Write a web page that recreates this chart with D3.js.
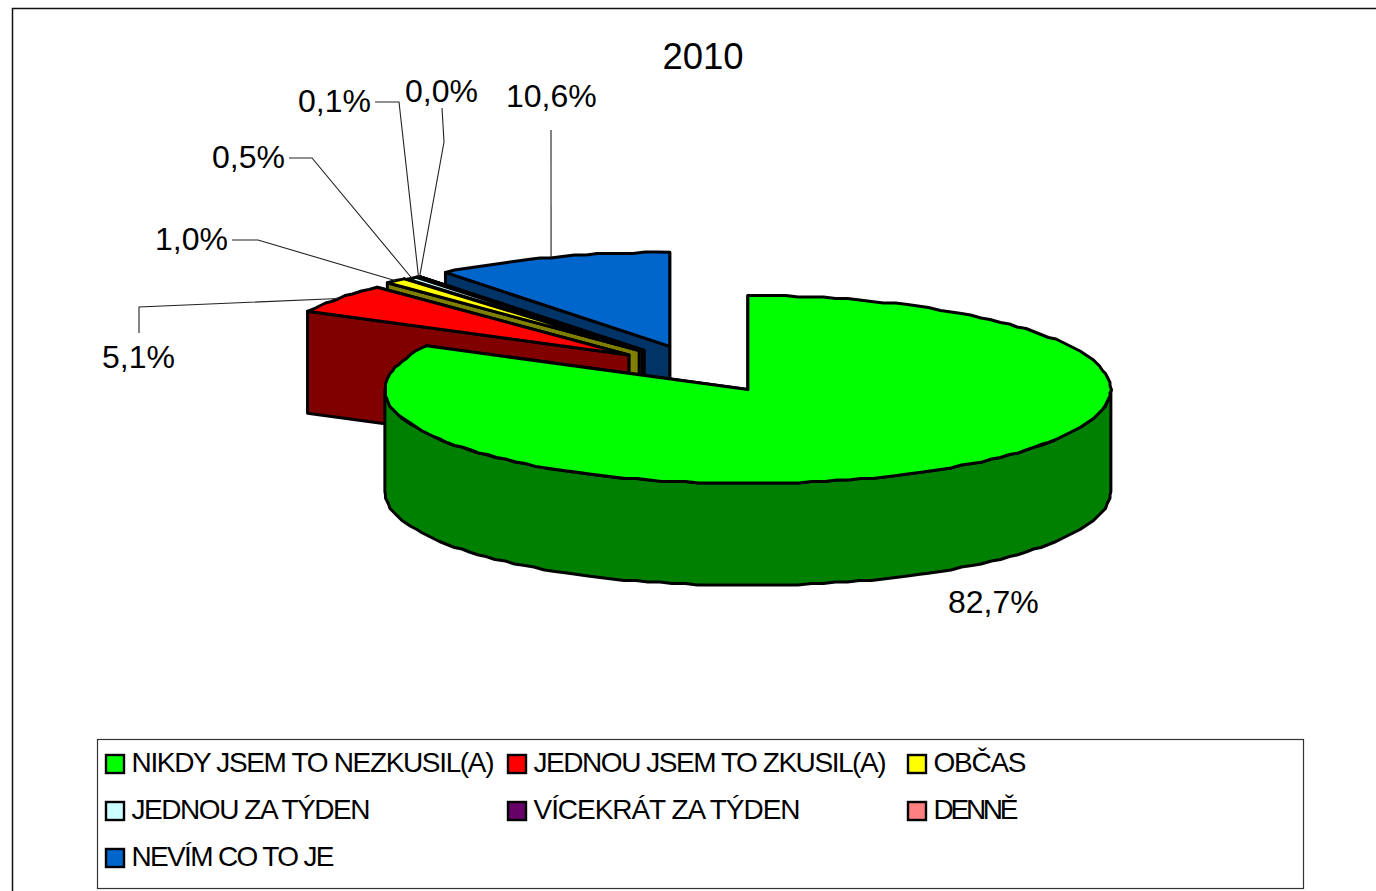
<!DOCTYPE html>
<html>
<head>
<meta charset="utf-8">
<script src="https://cdn.jsdelivr.net/npm/d3@7"></script>
<style>
  html, body { margin: 0; background: #fff; overflow: hidden; }
  text { font-family: "Liberation Sans", Arial, sans-serif; fill: #000; }
</style>
</head>
<body>
<div id="chart"></div>
<script>
const title = '2010';
const categories = ['NIKDY JSEM TO NEZKUSIL(A)', 'JEDNOU JSEM TO ZKUSIL(A)', 'OBČAS', 'JEDNOU ZA TÝDEN', 'VÍCEKRÁT ZA TÝDEN', 'DENNĚ', 'NEVÍM CO TO JE'];
const values = [82.7, 5.1, 1.0, 0.5, 0.1, 0.0, 10.6];
const colors = ['#00ff00', '#ff0000', '#ffff00', '#ccffff', '#660066', '#ff8080', '#0066cc'];

// label placement: text x, text baseline y, leader elbow points
const labelPos = [
    { x: 948, y: 613, elbow: null },
    { x: 102, y: 368, elbow: [[139, 333], [139, 307]] },
    { x: 155, y: 250, elbow: [[232, 240], [258, 240]] },
    { x: 212, y: 168, elbow: [[289, 158], [312, 158]] },
    { x: 298, y: 112, elbow: [[375, 102], [399, 102]] },
    { x: 405, y: 102, elbow: [[442, 108], [444, 142]] },
    { x: 506, y: 107, elbow: [[551, 130]] }
];
const legendCols = [106, 508, 908];
const legendRows = [755, 802, 849];
const legendWidths = [363, 353, 93, 239, 267, 85, 203];

const width = 1376, height = 891;
const cx = 700, cy = 369, rx = 363, ry = 94, depth = 102;
// how far each slice is pulled out of the pie, x and y differ a little in the original
const explodeX = [0.255, 0.245, 0.25, 0.25, 0.25, 0.25, 0.255];
const explodeY = [0.255, 0.248, 0.265, 0.25, 0.25, 0.25, 0.255];

const x = d3.scaleLinear().domain([-1, 1]).range([cx - rx, cx + rx]);
const y = d3.scaleLinear().domain([-1, 1]).range([cy + ry, cy - ry]);

const svg = d3.select('#chart').append('svg')
    .attr('width', width)
    .attr('height', height)
    .style('display', 'block');

// outer frame, runs off the right and bottom of the picture
svg.append('path')
    .attr('d', `M12.5,${height}V8.5H${width}`)
    .attr('fill', 'none')
    .attr('stroke', '#111')
    .attr('stroke-width', 1.5);

svg.append('text')
    .attr('x', 703)
    .attr('y', 69)
    .attr('text-anchor', 'middle')
    .attr('font-size', 36.5)
    .text(title);

const slices = d3.pie().sort(null).value(d => d)(values);
const mid = d => (d.startAngle + d.endAngle) / 2;

// the original is an upscaled raster, rim vertices sit on a coarse grid
const snap = v => Math.round(v / 1.5) * 1.5;

function project(d, angle, r = 1, dz = 0) {
    const m = mid(d);
    return [
        x(r * Math.sin(angle) + explodeX[d.index] * Math.sin(m)),
        y(r * Math.cos(angle) + explodeY[d.index] * Math.cos(m)) + dz
    ];
}

function rim(d, a0, a1, dz) {
    const n = Math.max(1, Math.ceil((a1 - a0) / (Math.PI / 90)));
    return d3.range(n + 1).map(i => {
        const p = project(d, a0 + (a1 - a0) * i / n, 1, dz);
        return (i === 0 || i === n) ? p : [snap(p[0]), snap(p[1])];
    });
}

const line = d3.line();
const sideColor = c => { const q = d3.rgb(c); return d3.rgb(q.r / 2, q.g / 2, q.b / 2).formatHex(); };

const pieG = svg.append('g')
    .attr('stroke', '#000')
    .attr('stroke-width', 3)
    .attr('stroke-linejoin', 'round');

// back to front: blue first, green last
const order = [6, 5, 4, 3, 2, 1, 0];
order.forEach(i => {
    const d = slices[i];
    const g = pieG.append('g');
    const side = sideColor(colors[i]);
    const c = project(d, 0, 0);
    [d.endAngle, d.startAngle].forEach(a => {
        const p = project(d, a);
        g.append('path')
            .attr('fill', side)
            .attr('d', line([c, p, [p[0], p[1] + depth], [c[0], c[1] + depth]]) + 'Z');
    });
    const a0 = Math.max(d.startAngle, Math.PI / 2);
    const a1 = Math.min(d.endAngle, 3 * Math.PI / 2);
    if (a1 > a0) {
        g.append('path')
            .attr('fill', side)
            .attr('d', line(rim(d, a0, a1, 0).concat(rim(d, a0, a1, depth).reverse())) + 'Z');
    }
    g.append('path')
        .attr('fill', colors[i])
        .attr('d', line([c].concat(rim(d, d.startAngle, d.endAngle, 0))) + 'Z');
});

// data labels and leaders
const fmt = v => v.toFixed(1).replace('.', ',') + '%';
values.forEach((v, i) => {
    const lp = labelPos[i];
    if (lp.elbow) {
        const d = slices[i];
        svg.append('path')
            .attr('fill', 'none')
            .attr('stroke', '#222')
            .attr('stroke-width', 1.1)
            .attr('d', line(lp.elbow.concat([project(d, mid(d))])));
    }
    svg.append('text')
        .attr('x', lp.x)
        .attr('y', lp.y)
        .attr('font-size', 32)
        .text(fmt(v));
});

// legend
svg.append('rect')
    .attr('x', 97.5)
    .attr('y', 739.5)
    .attr('width', 1206)
    .attr('height', 149)
    .attr('fill', '#fff')
    .attr('stroke', '#333')
    .attr('stroke-width', 1.2);

categories.forEach((name, i) => {
    const col = i % 3, row = Math.floor(i / 3);
    svg.append('rect')
        .attr('x', legendCols[col])
        .attr('y', legendRows[row])
        .attr('width', 18)
        .attr('height', 18)
        .attr('fill', colors[i])
        .attr('stroke', '#000')
        .attr('stroke-width', 2.4);
    svg.append('text')
        .attr('x', legendCols[col] + 25.5)
        .attr('y', legendRows[row] + 17)
        .attr('font-size', 28)
        .attr('textLength', legendWidths[i])
        .attr('lengthAdjust', 'spacing')
        .text(name);
});
</script>
</body>
</html>
